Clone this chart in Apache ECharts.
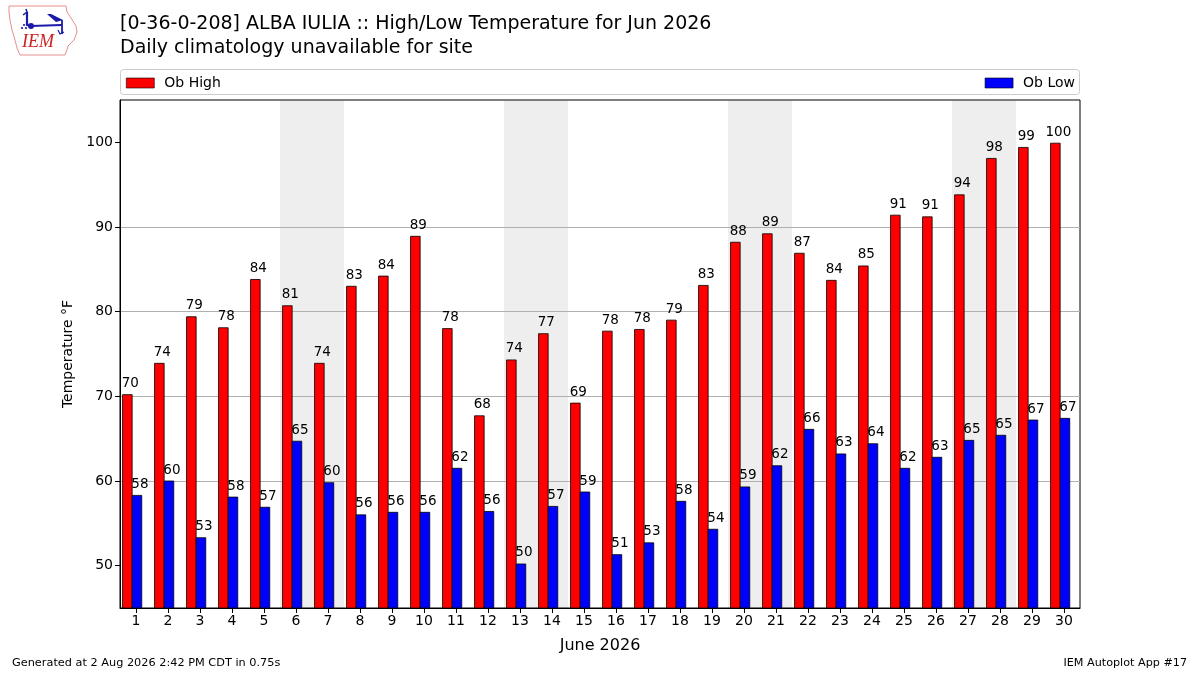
<!DOCTYPE html>
<html><head><meta charset="utf-8">
<script src="https://cdn.jsdelivr.net/npm/echarts@6/dist/echarts.min.js"></script>
<style>html,body{margin:0;padding:0;background:#fff}#c{width:1200px;height:675px}</style>
</head><body><div id="c"></div>
<script>
const days = ['1','2','3','4','5','6','7','8','9','10','11','12','13','14','15','16','17','18','19','20','21','22','23','24','25','26','27','28','29','30'];
const obHigh = [70.2,73.9,79.4,78.1,83.8,80.7,73.9,83.0,84.2,88.9,78.0,67.7,74.3,77.4,69.2,77.7,77.9,79.0,83.1,88.2,89.2,86.9,83.7,85.4,91.4,91.2,93.8,98.1,99.4,99.9];
const obLow = [58.3,60.0,53.3,58.1,56.9,64.7,59.8,56.0,56.3,56.3,61.5,56.4,50.2,57.0,58.7,51.3,52.7,57.6,54.3,59.3,61.8,66.1,63.2,64.4,61.5,62.8,64.8,65.4,67.2,67.4];
const weekendIdx = [5,6,12,13,19,20,26,27];
const yTicks = [50,60,70,80,90,100];

const FONT = 'DejaVu Sans';
const YMIN = 45, YMAX = 105;

function barRender(offset, color){
  return function(params, api){
    const idx = api.value(0), v = api.value(1);
    const top = api.coord([idx, v]);
    const base = api.coord([idx, YMIN]);
    const band = api.size([1,0])[0];
    const x0 = top[0] + offset*band;
    const w = 0.3*band;
    return {type:'group', children:[
      {type:'rect', shape:{x:x0, y:top[1], width:w, height:base[1]-top[1]},
       style:{fill:color, stroke:'#000', lineWidth:0.8}},
      {type:'text', x:x0 + w/2 + 3, y:top[1]-4,
       style:{text:String(Math.round(v)), font:'13.5px "DejaVu Sans"', fill:'#000', align:'center', verticalAlign:'bottom'}}
    ]};
  };
}

const chart = echarts.init(document.getElementById('c'));
chart.setOption({
  animation:false,
  backgroundColor:'#fff',
  textStyle:{fontFamily:FONT},
  grid:{left:120, right:120, top:100, bottom:67, show:true, borderColor:'#000', borderWidth:1, z:1},
  legend:[
    {left:126, top:76, data:['Ob High'], icon:'rect', itemWidth:28, itemHeight:10,
     itemStyle:{borderColor:'#000', borderWidth:0.6},
     textStyle:{fontFamily:FONT, fontSize:14, color:'#000', padding:[0,0,0,5]}, padding:0},
    {right:125, top:76, data:['Ob Low'], icon:'rect', itemWidth:28, itemHeight:10,
     itemStyle:{borderColor:'#000', borderWidth:0.6},
     textStyle:{fontFamily:FONT, fontSize:14, color:'#000', padding:[0,0,0,5]}, padding:0}
  ],
  xAxis:{type:'category', data:days, boundaryGap:true, z:1,
    axisLine:{show:true, lineStyle:{color:'#000', width:1}},
    axisTick:{show:true, alignWithLabel:true, length:5, lineStyle:{color:'#000'}},
    axisLabel:{fontFamily:FONT, fontSize:14, color:'#000', margin:6, interval:0},
    splitLine:{show:false},
    name:'June 2026', nameLocation:'middle', nameGap:30,
    nameTextStyle:{fontFamily:FONT, fontSize:16, color:'#000'}
  },
  yAxis:{type:'value', min:YMIN, max:YMAX, interval:5, z:1,
    axisLine:{show:true, lineStyle:{color:'#000', width:1}},
    axisTick:{show:true, length:5, lineStyle:{color:'#000'}, customValues:yTicks},
    axisLabel:{fontFamily:FONT, fontSize:14, color:'#000', margin:7, customValues:yTicks},
    splitLine:{show:true, lineStyle:{color:'#b0b0b0', width:1}, showMinLine:false, showMaxLine:false},
    name:'Temperature °F', nameLocation:'middle', nameGap:42,
    nameTextStyle:{fontFamily:FONT, fontSize:14, color:'#000'}
  },
  series:[
    {type:'custom', name:'weekend', z:0, silent:true, data:weekendIdx.map(i=>[i, YMAX]),
     renderItem:function(params, api){
       const idx = api.value(0);
       const t = api.coord([idx, YMAX]);
       const b = api.coord([idx, YMIN]);
       const band = api.size([1,0])[0];
       return {type:'rect', shape:{x:t[0]-band/2, y:t[1], width:band, height:b[1]-t[1]}, style:{fill:'#eeeeee'}};
     }},
    {type:'custom', name:'Ob High', z:2, itemStyle:{color:'#ff0000', borderColor:'#000', borderWidth:0.8},
     data:obHigh.map((v,i)=>[i,v]), renderItem:barRender(-0.42,'#ff0000')},
    {type:'custom', name:'Ob Low', z:2, itemStyle:{color:'#0000ff', borderColor:'#000', borderWidth:0.8},
     data:obLow.map((v,i)=>[i,v]), renderItem:barRender(-0.12,'#0000ff')}
  ],
  graphic:[
    {type:'rect', x:120.5, y:69.5, shape:{width:959, height:25, r:3}, style:{fill:'none', stroke:'#cccccc', lineWidth:1}, z:-1},
    {type:'text', left:120, top:15, style:{text:'[0-36-0-208] ALBA IULIA :: High/Low Temperature for Jun 2026', font:'19px "DejaVu Sans"', fill:'#000'}},
    {type:'text', left:120, top:39, style:{text:'Daily climatology unavailable for site', font:'19px "DejaVu Sans"', fill:'#000'}},
    {type:'text', left:12, top:658, style:{text:'Generated at 2 Aug 2026 2:42 PM CDT in 0.75s', font:'11.3px "DejaVu Sans"', fill:'#000'}},
    {type:'text', right:13, top:658, style:{text:'IEM Autoplot App #17', font:'11.2px "DejaVu Sans"', fill:'#000'}},
    {type:'group', x:0, y:0, children:[
      {type:'polyline', shape:{points:[[9,6],[66,6],[67,12],[71,18],[76,26],[77,32],[74,40],[68,46],[67,50],[65,55],[20,55],[17,48],[15,40],[12,30],[10,20],[9,12],[9,6]]},
       style:{stroke:'#e88f8f', lineWidth:1, fill:'none'}},
      {type:'text', x:22, y:51, style:{text:'IEM', font:'italic 18px "Liberation Serif"', fill:'#cc2222', verticalAlign:'bottom'}},
      {type:'polyline', shape:{points:[[27,12],[27,25],[31,26],[62,25]]}, style:{stroke:'#1a1aaa', lineWidth:2.2, fill:'none'}},
      {type:'polyline', shape:{points:[[23,15],[27,12],[26,9]]}, style:{stroke:'#1a1aaa', lineWidth:1.5, fill:'none'}},
      {type:'circle', shape:{cx:31, cy:26, r:3}, style:{fill:'#1a1aaa'}},
      {type:'polygon', shape:{points:[[47,14],[51,14],[63,20],[56,22]]}, style:{fill:'#1a1aaa'}},
      {type:'polyline', shape:{points:[[62,20],[62,34]]}, style:{stroke:'#1a1aaa', lineWidth:1.8, fill:'none'}},
      {type:'polyline', shape:{points:[[58,30],[60,34],[64,32]]}, style:{stroke:'#1a1aaa', lineWidth:1.2, fill:'none'}},
      {type:'circle', shape:{cx:24, cy:25, r:1.1}, style:{fill:'#1a1aaa'}},
      {type:'circle', shape:{cx:22, cy:28, r:1.1}, style:{fill:'#1a1aaa'}},
      {type:'circle', shape:{cx:26, cy:28, r:1.1}, style:{fill:'#1a1aaa'}}
    ]}
  ]
});
</script></body></html>
